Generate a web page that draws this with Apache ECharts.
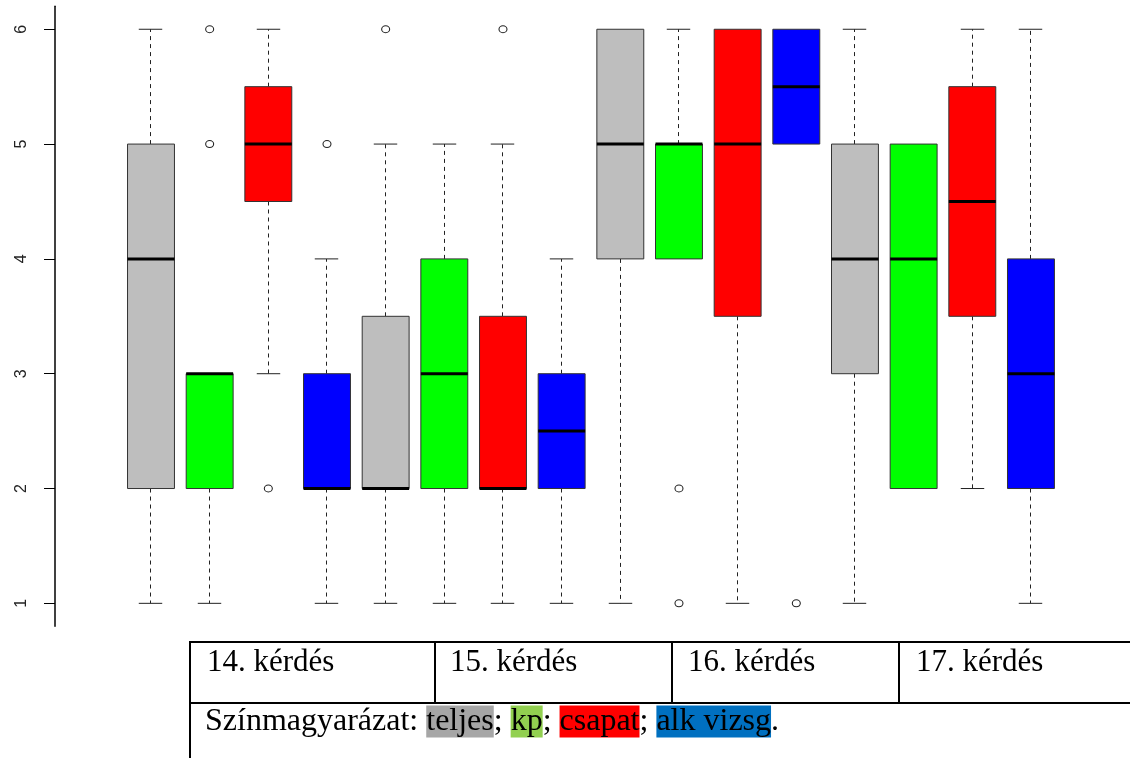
<!DOCTYPE html>
<html>
<head>
<meta charset="utf-8">
<script src="https://cdn.jsdelivr.net/npm/echarts@6/dist/echarts.min.js"></script>
<style>
html,body{margin:0;padding:0;background:#fff;}
#c{width:1130px;height:758px;}
</style>
</head>
<body>
<div id="c"></div>
<script>
// ---- data ----
var questions = ["14. kérdés", "15. kérdés", "16. kérdés", "17. kérdés"];
var groups = ["teljes", "kp", "csapat", "alk vizsg"];
var whiskerLow  = [1, 1, 3,   1,   1, 1, 1,   1,   1, 4, 1,   5,   1, 2, 2,   1];
var q1          = [2, 2, 4.5, 2,   2, 2, 2,   2,   4, 4, 3.5, 5,   3, 2, 3.5, 2];
var median      = [4, 3, 5,   2,   2, 3, 2,   2.5, 5, 5, 5,   5.5, 4, 4, 4.5, 3];
var q3          = [5, 3, 5.5, 3,   3.5, 4, 3.5, 3, 6, 5, 6,   6,   5, 5, 5.5, 4];
var whiskerHigh = [6, 3, 6,   4,   5, 5, 5,   4,   6, 6, 6,   6,   6, 5, 6,   6];
var outlierBox  = [2, 2, 3, 4, 5, 7, 10, 10, 12];
var outlierVal  = [5, 6, 2, 5, 6, 6, 2,  1,  1];
var yTicks = [1, 2, 3, 4, 5, 6];

var boxColors = ['#bebebe', '#00ff00', '#ff0000', '#0000ff'];

var boxData = [];
for (var i = 0; i < whiskerLow.length; i++) {
  boxData.push([i + 1, whiskerLow[i], q1[i], median[i], q3[i], whiskerHigh[i], i % groups.length]);
}
var outData = outlierBox.map(function (b, k) { return [b, outlierVal[k]]; });

function renderBox(params, api) {
  var x = api.value(0);
  var lo = api.value(1), a = api.value(2), m = api.value(3), b = api.value(4), hi = api.value(5);
  var ci = api.value(6);
  var halfW = api.size([0.8, 0])[0] / 2;
  var capHalf = halfW / 2;
  var pLo = api.coord([x, lo]), pA = api.coord([x, a]), pM = api.coord([x, m]), pB = api.coord([x, b]), pHi = api.coord([x, hi]);
  var cx = Math.round(pA[0] - 0.5) + 0.5;
  var ch = [];
  if (hi > b) {
    ch.push({type: 'line', shape: {x1: cx, y1: pB[1], x2: cx, y2: pHi[1]}, style: {stroke: '#222', lineWidth: 1, lineDash: [4, 4]}});
    ch.push({type: 'line', shape: {x1: cx - capHalf, y1: pHi[1], x2: cx + capHalf, y2: pHi[1]}, style: {stroke: '#222', lineWidth: 1}});
  }
  if (lo < a) {
    ch.push({type: 'line', shape: {x1: cx, y1: pA[1], x2: cx, y2: pLo[1]}, style: {stroke: '#222', lineWidth: 1, lineDash: [4, 4]}});
    ch.push({type: 'line', shape: {x1: cx - capHalf, y1: pLo[1], x2: cx + capHalf, y2: pLo[1]}, style: {stroke: '#222', lineWidth: 1}});
  }
  ch.push({type: 'rect', shape: {x: pA[0] - halfW, y: pB[1], width: 2 * halfW, height: pA[1] - pB[1]},
           style: {fill: boxColors[ci], stroke: '#333', lineWidth: 1}});
  ch.push({type: 'line', shape: {x1: pA[0] - halfW, y1: pM[1], x2: pA[0] + halfW, y2: pM[1]}, style: {stroke: '#000', lineWidth: 3}});
  return {type: 'group', children: ch};
}

var chart = echarts.init(document.getElementById('c'), null, {renderer: 'canvas'});
var serif = '"Liberation Serif", "Times New Roman", serif';
var lineStyle = {stroke: '#000', lineWidth: 2};
var qx = [207, 450, 688, 916];

var graphics = [
  {type: 'line', shape: {x1: 189, y1: 642, x2: 1130, y2: 642}, style: lineStyle},
  {type: 'line', shape: {x1: 189, y1: 703, x2: 1130, y2: 703}, style: lineStyle},
  {type: 'line', shape: {x1: 190, y1: 641, x2: 190, y2: 758}, style: lineStyle},
  {type: 'line', shape: {x1: 435, y1: 642, x2: 435, y2: 703}, style: lineStyle},
  {type: 'line', shape: {x1: 672, y1: 642, x2: 672, y2: 703}, style: lineStyle},
  {type: 'line', shape: {x1: 899, y1: 642, x2: 899, y2: 703}, style: lineStyle}
];
questions.forEach(function (q, k) {
  graphics.push({type: 'text', x: qx[k], y: 662.5,
    style: {text: q, font: '31px ' + serif, fill: '#000', verticalAlign: 'middle'}});
});
var rs = function (bg) { return {backgroundColor: bg, fontFamily: serif, fontSize: 32, lineHeight: 38, color: '#000'}; };
graphics.push({type: 'text', x: 205, y: 721.5,
  style: {
    text: 'Színmagyarázat: {g|' + groups[0] + '}; {k|' + groups[1] + '}; {c|' + groups[2] + '}; {b|' + groups[3] + '}.',
    font: '32px ' + serif, fill: '#000', verticalAlign: 'middle', lineHeight: 38,
    rich: {g: rs('#a6a6a6'), k: rs('#92d050'), c: rs('#ff0000'), b: rs('#0070c0')}
  }});

chart.setOption({
  animation: false,
  backgroundColor: '#fff',
  grid: {left: 92.33, top: 6.3, width: 997.3, height: 620},
  xAxis: {type: 'value', min: 0, max: 17, show: false},
  yAxis: {
    type: 'value', min: 0.8, max: 6.2, offset: 37.3,
    splitLine: {show: false},
    axisLine: {show: true, onZero: false, lineStyle: {color: '#000', width: 1.5}},
    axisTick: {show: true, length: 11, customValues: yTicks, lineStyle: {color: '#000', width: 1}},
    axisLabel: {customValues: yTicks, rotate: 90, margin: 25, fontFamily: 'Liberation Sans, Arial, sans-serif', fontSize: 16, color: '#222'}
  },
  series: [
    {type: 'custom', renderItem: renderBox, data: boxData, encode: {x: 0, y: [1, 5]}, z: 2},
    {type: 'scatter', data: outData, symbol: 'circle', symbolSize: [8, 7], z: 3,
     itemStyle: {color: '#fff', borderColor: '#222', borderWidth: 1, opacity: 1}}
  ],
  graphic: graphics
});
</script>
</body>
</html>
